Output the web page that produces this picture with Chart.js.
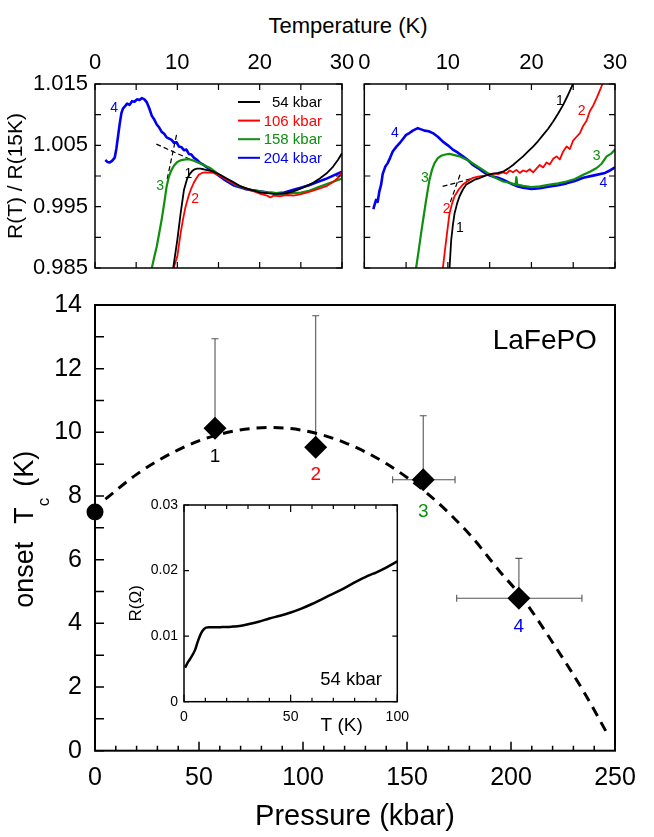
<!DOCTYPE html>
<html><head><meta charset="utf-8">
<script src="https://cdn.jsdelivr.net/npm/chart.js@4.4.1/dist/chart.umd.min.js"></script>
<style>
html,body{margin:0;padding:0;background:#fff;}
body{width:654px;height:837px;position:relative;overflow:hidden;font-family:'Liberation Sans',Arial,sans-serif;}
canvas{position:absolute;}
#ttl{position:absolute;left:248px;width:200px;top:13px;line-height:26px;font-size:22px;text-align:center;color:#000;white-space:nowrap;}
</style></head><body>
<div id="ttl">Temperature (K)</div>
<canvas id="c1" width="360" height="290" style="left:0;top:0;width:360px;height:290px"></canvas>
<canvas id="c2" width="304" height="290" style="left:350px;top:0;width:304px;height:290px"></canvas>
<canvas id="c3" width="654" height="547" style="left:0;top:290px;width:654px;height:547px"></canvas>
<canvas id="c4" width="300" height="250" style="left:120px;top:490px;width:300px;height:250px"></canvas>
<script>
// ---------- data ----------
const SERIES_NAMES = ['54 kbar', '106 kbar', '158 kbar', '204 kbar'];
const COLORS = ['#000000', '#ff0000', '#0e8f0e', '#0000f0'];

// left top panel: R(T)/R(15K) vs T
const L1_T = [9.5,10.0,10.4,10.8,11.2,11.5,11.8,12.1,12.4,12.8,13.2,13.8,14.4,15.2,16.0,16.8,17.7,18.5,19.3,20.1,20.9,21.7,22.5,23.3,24.1,24.9,25.7,26.5,27.3,28.1,28.9,29.5,30.0];
const L1_R = [0.9850,0.9896,0.9939,0.9977,0.9996,1.0003,1.0008,1.0011,1.0012,1.0012,1.0011,1.0009,1.0007,1.0002,0.9996,0.9990,0.9983,0.9979,0.9976,0.9973,0.9972,0.9971,0.9971,0.9972,0.9975,0.9979,0.9984,0.9989,0.9996,1.0004,1.0015,1.0026,1.0037];
const L2_T = [9.55,10.0,10.4,10.7,11.0,11.4,11.7,12.0,12.3,12.6,13.0,13.4,14.4,15.2,16.0,16.8,17.7,18.5,19.3,20.1,20.9,21.3,21.7,22.5,23.3,24.1,24.9,25.7,26.5,27.4,28.2,29.0,29.6,30.0];
const L2_R = [0.9850,0.9869,0.9907,0.9930,0.9950,0.9969,0.9980,0.9989,0.9996,1.0002,1.0005,1.0006,1.0005,1.0000,0.9994,0.9988,0.9983,0.9979,0.9975,0.9971,0.9968,0.9965,0.9968,0.9967,0.9969,0.9968,0.9970,0.9973,0.9976,0.9980,0.9984,0.9991,0.9998,1.0007];
const L3_T = [6.9,7.2,7.5,7.8,8.1,8.4,8.7,9.0,9.3,9.6,10.0,10.5,11.0,11.5,12.0,12.5,13.0,13.5,14.0,15.0,16.0,17.0,18.0,19.0,20.0,21.0,22.0,23.0,24.0,25.0,26.0,27.0,28.0,29.0,30.0];
const L3_R = [0.9850,0.9868,0.9885,0.9907,0.9929,0.9955,0.9983,1.0000,1.0010,1.0017,1.0023,1.0026,1.0027,1.0027,1.0025,1.0022,1.0019,1.0016,1.0013,1.0003,0.9994,0.9986,0.9981,0.9977,0.9975,0.9973,0.9972,0.9971,0.9972,0.9973,0.9976,0.9981,0.9986,0.9991,0.9996];
const L4_T = [1.25,1.5,1.8,2.1,2.4,2.6,2.8,3.0,3.2,3.4,3.6,3.9,4.2,4.5,4.8,5.1,5.4,5.7,6.0,6.3,6.6,6.9,7.2,7.5,7.8,8.1,8.4,8.7,9.0,9.3,9.6,9.9,10.2,10.5,10.8,11.1,11.4,11.7,12.0,12.4,12.8,13.2,13.6,14.0,14.5,15.0,15.6,16.2,16.8,17.5,18.2,19.0,20.0,21.0,22.0,23.0,24.0,25.0,26.0,27.0,28.0,29.0,30.0];
const L4_R = [1.0026,1.0023,1.0022,1.0025,1.0030,1.0045,1.0065,1.0085,1.0102,1.0110,1.0113,1.0118,1.0116,1.0122,1.0121,1.0125,1.0124,1.0127,1.0125,1.0120,1.0110,1.0098,1.0092,1.0084,1.0079,1.0072,1.0069,1.0063,1.0061,1.0059,1.0054,1.0055,1.0048,1.0047,1.0042,1.0043,1.0036,1.0035,1.0030,1.0026,1.0021,1.0018,1.0014,1.0011,1.0006,1.0001,0.9995,0.9990,0.9985,0.9982,0.9979,0.9977,0.9975,0.9973,0.9972,0.9973,0.9977,0.9981,0.9985,0.9990,0.9995,1.0001,1.0007];
const LD1_T = [7.45, 11.6],  LD1_R = [1.0052, 1.0027];
const LD2_T = [9.9, 8.75],   LD2_R = [1.0067, 0.9994];

// right top panel
const R1_T = [10.2,10.4,10.6,10.8,11.1,11.4,11.8,12.2,12.7,13.2,13.7,14.2,14.8,15.4,16.0,16.6,17.2,17.8,18.4,19.0,19.6,20.2,20.8,21.4,22.0,22.6,23.2,23.8,24.3,24.8,25.1];
const R1_R = [0.9850,0.9896,0.9920,0.9939,0.9955,0.9967,0.9978,0.9986,0.9990,0.9994,0.9996,0.9999,1.0002,1.0004,1.0005,1.0007,1.0012,1.0018,1.0025,1.0032,1.0040,1.0048,1.0057,1.0067,1.0077,1.0089,1.0102,1.0116,1.0130,1.0145,1.0155];
const R2_T = [9.4,9.6,9.8,10.0,10.2,10.5,10.8,11.3,11.8,12.4,13.0,13.6,14.2,14.8,15.4,16.0,16.6,17.0,17.4,17.8,18.2,18.6,19.0,19.4,19.8,20.2,20.6,21.0,21.4,21.8,22.2,22.6,23.0,23.4,23.8,24.2,24.6,25.0,25.4,25.8,26.2,26.6,27.0,27.4,27.8,28.2,28.5];
const R2_R = [0.9850,0.9873,0.9896,0.9918,0.9939,0.9955,0.9967,0.9978,0.9986,0.9992,0.9997,0.9999,1.0000,1.0002,1.0004,1.0003,1.0006,1.0004,1.0009,1.0006,1.0010,1.0005,1.0009,1.0007,1.0011,1.0006,1.0012,1.0018,1.0014,1.0022,1.0019,1.0028,1.0032,1.0027,1.0040,1.0048,1.0044,1.0058,1.0064,1.0070,1.0082,1.0090,1.0106,1.0115,1.0127,1.0140,1.0150];
const R3_T = [6.2,6.5,6.8,7.1,7.4,7.8,8.1,8.4,8.8,9.2,9.7,10.2,10.8,11.4,12.0,12.6,13.4,14.2,15.4,16.6,17.4,18.1,18.2,18.3,19.0,20.0,21.0,22.2,23.2,24.2,25.2,26.2,27.0,27.8,28.4,29.0,29.5,30.0];
const R3_R = [0.9850,0.9878,0.9907,0.9934,0.9961,0.9994,1.0010,1.0021,1.0029,1.0033,1.0035,1.0036,1.0034,1.0032,1.0028,1.0024,1.0017,1.0010,0.9999,0.9991,0.9989,0.9986,0.9998,0.9986,0.9984,0.9982,0.9983,0.9986,0.9988,0.9991,0.9995,1.0002,1.0007,1.0013,1.0020,1.0032,1.0036,1.0043];
const R4_T = [1.08,1.4,1.6,1.8,2.0,2.2,2.5,2.8,3.1,3.4,3.8,4.2,4.6,5.0,5.4,5.8,6.1,6.4,6.8,7.2,7.7,8.2,8.8,9.4,10.0,10.6,11.2,11.8,12.4,13.0,13.6,14.2,14.8,15.4,16.0,16.6,17.2,17.8,18.4,19.0,20.0,21.0,22.2,23.2,24.2,25.2,26.2,27.5,28.8,29.4,30.0];
const R4_R = [0.9946,0.9961,0.9958,0.9975,0.9985,1.0003,1.0015,1.0021,1.0030,1.0040,1.0047,1.0053,1.0060,1.0067,1.0070,1.0074,1.0076,1.0078,1.0076,1.0074,1.0073,1.0070,1.0064,1.0056,1.0050,1.0043,1.0038,1.0032,1.0026,1.0018,1.0013,1.0007,1.0002,0.9999,0.9997,0.9994,0.9990,0.9986,0.9983,0.9981,0.9979,0.9980,0.9983,0.9985,0.9988,0.9992,0.9997,1.0001,1.0005,1.0009,1.0014];
const RD1_T = [9.37, 13.05], RD1_R = [0.9983, 0.99965];
const RD2_T = [11.45, 10.26], RD2_R = [1.0002, 0.9956];

// main panel: onset Tc vs pressure
const AMBIENT_P = [0], AMBIENT_TC = [7.5];
const PRESS = [57.7, 106.1, 157.8, 203.8];
const TC    = [10.13, 9.53, 8.51, 4.79];
const TC_UP = [12.94, 13.66, 10.52, 6.04];
const P_LO  = [null, null, 143.1, 173.9];
const P_HI  = [null, null, 173.1, 234.1];
const POINT_LABELS = ['1', '2', '3', '4'];
const FIT_P  = [5, 20, 40, 60, 84, 100, 120, 140, 160, 180, 195, 205, 220, 235, 247];
const FIT_TC = [7.90, 8.68, 9.45, 9.94, 10.15, 10.06, 9.68, 9.02, 8.07, 6.80, 5.60, 4.84, 3.40, 1.85, 0.45];

// inset: R vs T at 54 kbar
const INSET_T = [0.5,2,3.6,5.2,6.7,8.3,9.5,10.3,12,14,17,20,23,26,30,35,40,45,50,55,60,65,70,75,80,85,87,90,95,100];
const INSET_R = [0.0052,0.0061,0.0069,0.0079,0.0094,0.0106,0.0111,0.0113,0.01134,0.01135,0.01137,0.01139,0.01146,0.01154,0.0118,0.0122,0.0127,0.0131,0.0136,0.0142,0.0149,0.0157,0.0165,0.0173,0.0182,0.0190,0.0193,0.0197,0.0205,0.0214];

// ---------- helpers ----------
const FONT = "'Liberation Sans', Arial, sans-serif";
Chart.defaults.font.family = FONT;
Chart.defaults.color = '#000';

function pts(xs, ys) { return xs.map((x, i) => ({x: x, y: ys[i]})); }
function fix(dim, size) {
  return s => { s[dim] = size; s.paddingLeft = 0; s.paddingRight = 0; s.paddingTop = 0; s.paddingBottom = 0; };
}
function curve(xs, ys, color, w, dash) {
  return {data: pts(xs, ys), borderColor: color, borderWidth: w, pointRadius: 0,
          borderDash: dash || [], borderJoinStyle: 'round', fill: false, tension: 0};
}
function framePlugin(cfg) {
  return {
    id: 'frame',
    afterDatasetsDraw(chart) {
      const {ctx, chartArea: a, scales} = chart;
      const xs = scales.x, ys = scales.y;
      ctx.save();
      ctx.strokeStyle = '#000';
      ctx.lineWidth = cfg.tw;
      ctx.beginPath();
      xs.ticks.forEach(t => {
        const p = xs.getPixelForValue(t.value);
        const major = cfg.xMajor && Math.abs(t.value / cfg.xMajor - Math.round(t.value / cfg.xMajor)) < 1e-6;
        const L = major ? cfg.xLenMajor : cfg.xLen;
        if (cfg.bottom) { ctx.moveTo(p, a.bottom); ctx.lineTo(p, a.bottom - L); }
        if (cfg.top) { ctx.moveTo(p, a.top); ctx.lineTo(p, a.top + L); }
      });
      ys.ticks.forEach(t => {
        const p = ys.getPixelForValue(t.value);
        if (cfg.left) { ctx.moveTo(a.left, p); ctx.lineTo(a.left + cfg.yLen, p); }
        if (cfg.right) { ctx.moveTo(a.right, p); ctx.lineTo(a.right - cfg.yLen, p); }
      });
      ctx.stroke();
      ctx.lineWidth = cfg.fw;
      ctx.strokeRect(a.left, a.top, a.right - a.left, a.bottom - a.top);
      ctx.restore();
    }
  };
}
function textPlugin(items) {
  return {
    id: 'texts',
    afterDatasetsDraw(chart) {
      const {ctx, scales: {x, y}} = chart;
      ctx.save();
      items.forEach(it => {
        ctx.font = it.size + 'px ' + FONT;
        ctx.fillStyle = it.color || '#000';
        ctx.textAlign = it.align || 'center';
        ctx.textBaseline = 'alphabetic';
        ctx.fillText(it.text, x.getPixelForValue(it.x), y.getPixelForValue(it.y));
      });
      ctx.restore();
    }
  };
}
const common = {responsive: false, animation: false, events: [],
  plugins: {legend: {display: false}, tooltip: {enabled: false}}};
const noGrid = {display: false, drawTicks: false};
const noBorder = {display: false};

// ---------- chart 1: top-left ----------
const legendPlugin = {
  id: 'lgd',
  afterDatasetsDraw(chart) {
    const ctx = chart.ctx;
    ctx.save();
    SERIES_NAMES.forEach((n, i) => {
      const y = 102 + i * 18.6;
      ctx.strokeStyle = COLORS[i]; ctx.lineWidth = 2;
      ctx.beginPath(); ctx.moveTo(238, y); ctx.lineTo(260, y); ctx.stroke();
      ctx.fillStyle = COLORS[i];
      ctx.font = '15px ' + FONT;
      ctx.textAlign = 'right'; ctx.textBaseline = 'middle';
      ctx.fillText(n, 322, y + 1);
    });
    ctx.restore();
  }
};
new Chart(document.getElementById('c1'), {
  type: 'line',
  data: {datasets: [
    curve(L1_T, L1_R, COLORS[0], 1.8),
    curve(L2_T, L2_R, COLORS[1], 1.8),
    curve(L3_T, L3_R, COLORS[2], 2.2),
    curve(L4_T, L4_R, COLORS[3], 2.6),
    curve(LD1_T, LD1_R, '#000', 1.2, [5, 3]),
    curve(LD2_T, LD2_R, '#000', 1.2, [5, 3])
  ]},
  options: Object.assign({}, common, {
    layout: {padding: {left: 0, top: 0, right: 18, bottom: 22}},
    scales: {
      x: {type: 'linear', position: 'top', min: 0, max: 30, grid: noGrid, border: noBorder,
          ticks: {stepSize: 5, autoSkip: false, maxRotation: 0, padding: 8, font: {size: 22}, color: '#000',
                  callback: v => (v % 10 === 0 ? String(v) : '')},
          afterFit: fix('height', 84)},
      y: {type: 'linear', min: 0.985, max: 1.015, grid: noGrid, border: noBorder,
          ticks: {stepSize: 0.005, autoSkip: false, padding: 7, font: {size: 22}, color: '#000',
                  callback: (v, i) => (i % 2 === 0 ? Number(v).toFixed(3) : '')},
          title: {display: true, text: 'R(T) / R(15K)', font: {size: 21}, color: '#000', padding: {top: 4, bottom: 0}},
          afterFit: fix('width', 95)}
    }
  }),
  plugins: [
    framePlugin({tw: 1.2, fw: 1.5, xLen: 6, xLenMajor: 6, yLen: 6, top: true, bottom: true, left: true, right: true}),
    textPlugin([
      {text: '4', x: 2.34, y: 1.01048, color: COLORS[3], size: 14},
      {text: '3', x: 7.9, y: 0.99772, color: COLORS[2], size: 14},
      {text: '1', x: 11.33, y: 0.99963, color: COLORS[0], size: 14},
      {text: '2', x: 12.15, y: 0.99555, color: COLORS[1], size: 14}
    ]),
    legendPlugin
  ]
});

// ---------- chart 2: top-right ----------
new Chart(document.getElementById('c2'), {
  type: 'line',
  data: {datasets: [
    curve(R1_T, R1_R, COLORS[0], 1.8),
    curve(R2_T, R2_R, COLORS[1], 1.8),
    curve(R3_T, R3_R, COLORS[2], 2.2),
    curve(R4_T, R4_R, COLORS[3], 2.6),
    curve(RD1_T, RD1_R, '#000', 1.2, [5, 3]),
    curve(RD2_T, RD2_R, '#000', 1.2, [5, 3])
  ]},
  options: Object.assign({}, common, {
    layout: {padding: {left: 14.3, top: 0, right: 39, bottom: 22}},
    scales: {
      x: {type: 'linear', position: 'top', min: 0, max: 30, grid: noGrid, border: noBorder,
          ticks: {stepSize: 5, autoSkip: false, maxRotation: 0, padding: 8, font: {size: 22}, color: '#000',
                  callback: v => (v % 10 === 0 ? String(v) : '')},
          afterFit: fix('height', 84)},
      y: {type: 'linear', min: 0.985, max: 1.015, grid: noGrid, border: noBorder,
          ticks: {display: false, stepSize: 0.005, autoSkip: false},
          afterFit: fix('width', 0)}
    }
  }),
  plugins: [
    framePlugin({tw: 1.2, fw: 1.5, xLen: 6, xLenMajor: 6, yLen: 6, top: true, bottom: true, left: true, right: true}),
    textPlugin([
      {text: '1', x: 23.42, y: 1.01158, color: COLORS[0], size: 14},
      {text: '2', x: 26.0, y: 1.00995, color: COLORS[1], size: 14},
      {text: '3', x: 27.8, y: 1.00261, color: COLORS[2], size: 14},
      {text: '4', x: 28.6, y: 0.99821, color: COLORS[3], size: 14},
      {text: '4', x: 3.67, y: 1.0064, color: COLORS[3], size: 14},
      {text: '3', x: 7.26, y: 0.99907, color: COLORS[2], size: 14},
      {text: '2', x: 9.86, y: 0.99391, color: COLORS[1], size: 14},
      {text: '1', x: 11.45, y: 0.99092, color: COLORS[0], size: 14}
    ])
  ]
});

// ---------- chart 3: main Tc(P) ----------
const vErr = [], vErrR = [];
PRESS.forEach((p, i) => {
  vErr.push({x: p, y: TC[i]}, {x: p, y: TC_UP[i]}, {x: p, y: null});
  vErrR.push(0, 3.5, 0);
});
const hErr = [];
PRESS.forEach((p, i) => {
  if (P_LO[i] !== null) hErr.push({x: P_LO[i], y: TC[i]}, {x: P_HI[i], y: TC[i]}, {x: P_HI[i], y: null});
});
const yTitlePlugin = {
  id: 'ytitle',
  afterDraw(chart) {
    const {ctx, chartArea: a} = chart;
    ctx.save();
    ctx.translate(33, (a.top + a.bottom) / 2 + 80);
    ctx.rotate(-Math.PI / 2);
    ctx.fillStyle = '#000';
    ctx.textAlign = 'left'; ctx.textBaseline = 'alphabetic';
    ctx.font = '27px ' + FONT;
    let x = 0;
    ctx.fillText('onset', x, 0); x += ctx.measureText('onset').width + 18;
    ctx.fillText('T', x, 0); x += ctx.measureText('T').width + 1;
    ctx.font = '17px ' + FONT;
    ctx.fillText('c', x, 16); x += ctx.measureText('c').width + 11;
    ctx.font = '27px ' + FONT;
    ctx.fillText('(K)', x, 0);
    ctx.restore();
  }
};
new Chart(document.getElementById('c3'), {
  type: 'line',
  data: {datasets: [
    {data: pts(PRESS, TC), showLine: false, pointStyle: 'rectRot', pointRadius: 11.5,
     pointBackgroundColor: '#000', pointBorderColor: '#000', pointBorderWidth: 0, clip: false, order: 0},
    {data: pts(AMBIENT_P, AMBIENT_TC), showLine: false, pointStyle: 'circle', pointRadius: 8.5,
     pointBackgroundColor: '#000', pointBorderColor: '#000', pointBorderWidth: 0, clip: false, order: 0},
    {data: pts(FIT_P, FIT_TC), borderColor: '#000', borderWidth: 3, borderDash: [10, 7], pointRadius: 0,
     cubicInterpolationMode: 'monotone', fill: false, order: 1},
    {data: vErr, borderColor: '#555', borderWidth: 1.1, pointRadius: vErrR, pointStyle: 'line',
     pointBorderColor: '#555', pointBorderWidth: 1.1, spanGaps: false, fill: false, order: 2},
    {data: hErr, borderColor: '#555', borderWidth: 1.1, pointRadius: [3.5, 3.5, 0, 3.5, 3.5, 0], pointStyle: 'line',
     pointRotation: 90, pointBorderColor: '#555', pointBorderWidth: 1.1, spanGaps: false, fill: false, order: 2}
  ]},
  options: Object.assign({}, common, {
    layout: {padding: {left: 0, top: 15, right: 39, bottom: 0}},
    scales: {
      x: {type: 'linear', min: 0, max: 250, grid: noGrid, border: noBorder,
          ticks: {stepSize: 10, autoSkip: false, maxRotation: 0, padding: 12, font: {size: 25}, color: '#000',
                  callback: v => (v % 50 === 0 ? String(v) : '')},
          title: {display: true, text: 'Pressure (kbar)', font: {size: 29}, color: '#000', padding: {top: 0, bottom: 3}},
          afterFit: fix('height', 86.3)},
      y: {type: 'linear', min: 0, max: 14, grid: noGrid, border: noBorder,
          ticks: {stepSize: 1, autoSkip: false, padding: 13, font: {size: 25}, color: '#000',
                  callback: v => (v % 2 === 0 ? String(v) : '')},
          afterFit: fix('width', 95)}
    }
  }),
  plugins: [
    framePlugin({tw: 1.5, fw: 2, xLen: 5, xLenMajor: 9, xMajor: 50, yLen: 9, bottom: true, left: true}),
    textPlugin([
      {text: 'LaFePO', x: 241.3, y: 12.62, size: 28, align: 'right'},
      {text: POINT_LABELS[0], x: 57.7, y: 9.06, size: 19, color: COLORS[0]},
      {text: POINT_LABELS[1], x: 106.2, y: 8.51, size: 19, color: COLORS[1]},
      {text: POINT_LABELS[2], x: 157.8, y: 7.34, size: 19, color: COLORS[2]},
      {text: POINT_LABELS[3], x: 203.8, y: 3.73, size: 19, color: COLORS[3]}
    ]),
    yTitlePlugin
  ]
});

// ---------- chart 4: inset ----------
new Chart(document.getElementById('c4'), {
  type: 'line',
  data: {datasets: [
    {data: pts(INSET_T, INSET_R), borderColor: '#000', borderWidth: 2.5, pointRadius: 0,
     cubicInterpolationMode: 'monotone', fill: false}
  ]},
  options: Object.assign({}, common, {
    layout: {padding: {left: 0, top: 15, right: 22.7, bottom: 0}},
    scales: {
      x: {type: 'linear', min: 0, max: 100, grid: noGrid, border: noBorder,
          ticks: {stepSize: 10, autoSkip: false, maxRotation: 0, padding: 6.6, font: {size: 14}, color: '#000',
                  callback: v => (v % 50 === 0 ? String(v) : '')},
          afterFit: fix('height', 38.3)},
      y: {type: 'linear', min: 0, max: 0.03, grid: noGrid, border: noBorder,
          ticks: {stepSize: 0.01, autoSkip: false, padding: 6, font: {size: 14}, color: '#000',
                  callback: v => (v === 0 ? '0' : Number(v).toFixed(2))},
          title: {display: true, text: 'R(\u03A9)', font: {size: 17}, color: '#000', padding: {top: 6.5, bottom: 0}},
          afterFit: fix('width', 64)}
    }
  }),
  plugins: [
    framePlugin({tw: 1.2, fw: 1.5, xLen: 4, xLenMajor: 7, xMajor: 50, yLen: 5, top: true, bottom: true, left: true, right: true}),
    textPlugin([
      {text: '54 kbar', x: 78.3, y: 0.00255, size: 18.5},
      {text: 'T (K)', x: 73.9, y: -0.00454, size: 19}
    ])
  ]
});
</script>
</body></html>
